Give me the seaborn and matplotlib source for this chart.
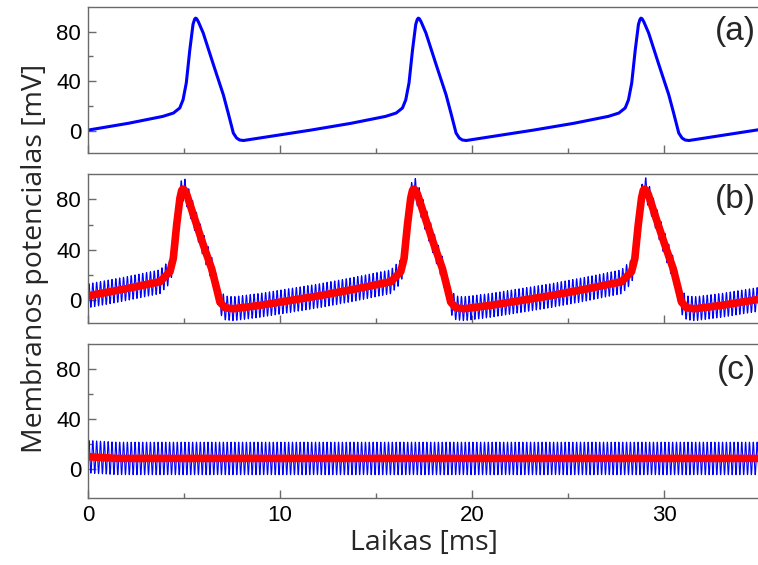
import numpy as np
import pandas as pd
import matplotlib
matplotlib.use("Agg")
import matplotlib.pyplot as plt
from matplotlib.ticker import FixedLocator, MultipleLocator
import seaborn as sns

# ---- data -------------------------------------------------------------
# (a) free spiking neuron: one spike cycle, time offset from the peak [ms] -> V [mV]
cycle_offset_a = [-5.6, -3.5, -1.7, -1.15, -0.82, -0.65, -0.48, -0.3, -0.13, -0.05,
                  0.0, 0.06, 0.15, 0.4, 0.93, 1.45, 1.7, 1.97, 2.14, 2.3, 2.5, 4.0, 6.0]
cycle_volt_a = [0.5, 6.0, 11.6, 14.3, 18.4, 25.0, 38.7, 65.0, 86.0, 90.0,
                91.0, 90.5, 88.0, 79.0, 53.5, 29.0, 14.4, -1.9, -5.9, -7.5, -7.9, -4.3, 0.5]
peaks_a = [5.6, 17.2, 28.8]
tail_a = (35.0, 1.0)

# (b) neuron under high-frequency stimulation: averaged potential (red)
cycle_offset_b = [-4.93, -3.0, -1.18, -0.66, -0.49, -0.31, -0.14, -0.05, 0.0, 0.08,
                  0.21, 0.55, 1.07, 1.51, 1.77, 1.94, 2.21, 2.64, 4.03, 7.09]
cycle_volt_b = [3.5, 9.0, 14.7, 22.7, 33.0, 60.0, 81.0, 87.0, 88.0, 87.5,
                84.0, 68.0, 44.0, 25.0, 9.3, -1.4, -6.0, -6.7, -4.0, 3.5]
peaks_b = [4.93, 16.95, 28.97]

# (c) blocked neuron: averaged potential (red)
time_c = [0.0, 0.5, 1.5, 35.0]
volt_c = [10.0, 9.5, 8.6, 8.6]

# high-frequency stimulus ripple
ripple_period_ms = 0.2
ripple_amp_b = 9.5
ripple_amp_c = 13.0

x_ticks = [0, 10, 20, 30]
y_ticks = [0, 40, 80]
y_minor = [20, 60]
panel_tags = ["(a)", "(b)", "(c)"]


def spike_train(offsets, volts, peaks):
    t, v = [], []
    for p in peaks:
        for o, val in zip(offsets, volts):
            tt = p + o
            if t and tt <= t[-1]:
                continue
            t.append(tt)
            v.append(val)
    return t, v


t_a, v_a = spike_train(cycle_offset_a, cycle_volt_a, peaks_a)
t_a.append(tail_a[0])
v_a.append(tail_a[1])
t_b, v_b = spike_train(cycle_offset_b, cycle_volt_b, peaks_b)

t_fine = np.arange(0.0, 35.0001, ripple_period_ms / 16)
ripple = np.sin(2 * np.pi * t_fine / ripple_period_ms)
blue_b = np.interp(t_fine, t_b, v_b) + ripple_amp_b * ripple
blue_c = np.interp(t_fine, time_c, volt_c) + ripple_amp_c * ripple

df_a = pd.DataFrame({"t": t_a, "v": v_a})
df_b_red = pd.DataFrame({"t": t_b, "v": v_b})
df_b_blue = pd.DataFrame({"t": t_fine, "v": blue_b})
df_c_red = pd.DataFrame({"t": time_c, "v": volt_c})
df_c_blue = pd.DataFrame({"t": t_fine, "v": blue_c})

# ---- figure -----------------------------------------------------------
sns.set_theme(style="white")
plt.rcParams["font.family"] = ["Liberation Sans", "DejaVu Sans"]

W, H = 758, 565
fig = plt.figure(figsize=(W / 100, H / 100), dpi=100)

# panel boxes in pixels: (top, bottom)
boxes = [(7, 153), (174, 323), (344, 498)]
ylims = [(-18, 100), (-18, 100), (-23, 100)]
left_px, right_px = 88, 760

axes = []
for (top, bot) in boxes:
    ax = fig.add_axes([left_px / W, 1 - bot / H, (right_px - left_px) / W, (bot - top) / H])
    axes.append(ax)

blue = "#0000ff"
red = "#ff0000"

sns.lineplot(data=df_a, x="t", y="v", ax=axes[0], color=blue, lw=2.2,
             sort=False, estimator=None)
sns.lineplot(data=df_b_blue, x="t", y="v", ax=axes[1], color=blue, lw=0.8,
             sort=False, estimator=None)
sns.lineplot(data=df_b_red, x="t", y="v", ax=axes[1], color=red, lw=5.5,
             sort=False, estimator=None)
sns.lineplot(data=df_c_blue, x="t", y="v", ax=axes[2], color=blue, lw=0.8,
             sort=False, estimator=None)
sns.lineplot(data=df_c_red, x="t", y="v", ax=axes[2], color=red, lw=5.5,
             sort=False, estimator=None)

spine_col = "#6a6a6a"
for i, ax in enumerate(axes):
    ax.set_xlim(0, 35)
    ax.set_ylim(*ylims[i])
    ax.set_xticks(x_ticks)
    ax.set_yticks(y_ticks)
    ax.xaxis.set_minor_locator(MultipleLocator(5))
    ax.yaxis.set_minor_locator(FixedLocator(y_minor))
    ax.tick_params(which="major", direction="in", length=6, width=1, color=spine_col,
                   labelsize=16, labelcolor="black", pad=5)
    ax.tick_params(which="minor", direction="in", length=3.5, width=1, color=spine_col)
    ax.tick_params(axis="both", which="both", bottom=True, left=True, top=False, right=False)
    for s in ax.spines.values():
        s.set_color(spine_col)
        s.set_linewidth(1.0)
    ax.set_xlabel("")
    ax.set_ylabel("")
    if i < 2:
        ax.tick_params(axis="x", labelbottom=False)
    ax.text((756 - left_px) / (right_px - left_px), 0.83, panel_tags[i],
            transform=ax.transAxes, ha="right", va="center", fontsize=24,
            family=["Liberation Sans", "DejaVu Sans"])

axes[2].set_xlabel("Laikas [ms]", fontsize=20.5, family=["Open Sans", "DejaVu Sans"],
                   labelpad=2)
fig.text(35 / W, 1 - 258 / H, "Membranos potencialas [mV]", rotation=90,
         ha="center", va="center", fontsize=20.5, family=["Open Sans", "DejaVu Sans"])

fig.savefig("out.png", dpi=100)
